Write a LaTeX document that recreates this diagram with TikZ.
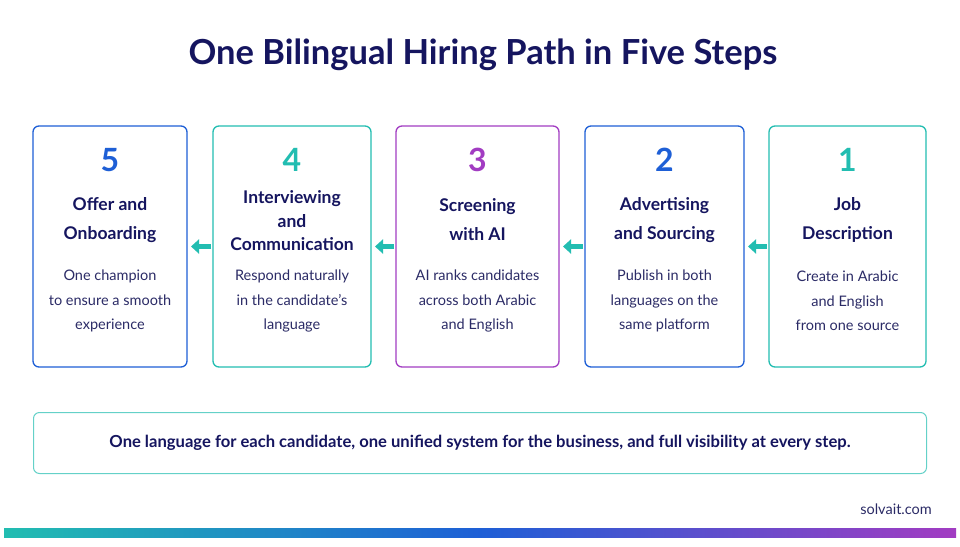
\documentclass[tikz,border=0pt]{standalone}
\usepackage{fontspec}
\setmainfont{Lato}
\usetikzlibrary{arrows.meta}
\definecolor{navy}{HTML}{15155F}
\definecolor{bblue}{HTML}{1E5FD6}
\definecolor{bteal}{HTML}{22BDB1}
\definecolor{bpurple}{HTML}{A23CC2}
\definecolor{desc}{HTML}{2B2B66}
\begin{document}
\begin{tikzpicture}[x=1pt,y=-1pt,
 card/.style={draw=#1, line width=1.3pt, rounded corners=6pt, fill=white, minimum height=241pt, anchor=north west, inner sep=0pt, outer sep=0pt},
 num/.style={text=#1, font=\fontsize{32}{32}\selectfont\bfseries},
 ttl/.style={text=navy, font=\fontsize{17.5}{29}\selectfont\bfseries, align=center},
 ttlthree/.style={text=navy, font=\fontsize{17.5}{23.5}\selectfont\bfseries, align=center},
 dsc/.style={text=desc, font=\fontsize{14.5}{24.5}\selectfont, align=center},
 arr/.style={draw=bteal, line width=4.5pt, -{Triangle[length=8pt,width=14pt]}, shorten >=4pt, shorten <=2pt}
]
\useasboundingbox[fill=white] (0,0) rectangle (960,546);
\node[text=navy, font=\fontsize{34.5}{34.5}\selectfont\bfseries] (title) at (483,55) {One Bilingual Hiring Path in Five Steps};

\node[card=bblue, minimum width=154pt] (c5) at (33,126) {};
\node[card=bteal, minimum width=158pt] (c4) at (213,126) {};
\node[card=bpurple, minimum width=163pt] (c3) at (396,126) {};
\node[card=bblue, minimum width=159pt] (c2) at (585,126) {};
\node[card=bteal, minimum width=157pt] (c1) at (769,126) {};

\foreach \c/\n/\col in {c5/5/bblue, c4/4/bteal, c3/3/bpurple, c2/2/bblue, c1/1/bteal}{
  \node[num=\col] (n\c) at (\c.center |- 0,160) {\n};
}
\node[ttl] (t5) at (c5.center |- 0,220) {Offer and\\Onboarding};
\node[ttlthree] (t4) at (c4.center |- 0,221) {Interviewing\\and\\Communication};
\node[ttl] (t3) at (c3.center |- 0,220) {Screening\\with AI};
\node[ttl] (t2) at (c2.center |- 0,220) {Advertising\\and Sourcing};
\node[ttl] (t1) at (c1.center |- 0,220) {Job\\Description};

\node[dsc] (d5) at (c5.center |- 0,301) {One champion\\to ensure a smooth\\experience};
\node[dsc] (d4) at (c4.center |- 0,301) {Respond naturally\\in the candidate’s\\language};
\node[dsc] (d3) at (c3.center |- 0,301) {AI ranks candidates\\across both Arabic\\and English};
\node[dsc] (d2) at (c2.center |- 0,301) {Publish in both\\languages on the\\same platform};
\node[dsc] (d1) at (c1.center |- 0,301) {Create in Arabic\\and English\\from one source};

\draw[arr] (c1.west) -- (c2.east);
\draw[arr] (c2.west) -- (c3.east);
\draw[arr] (c3.west) -- (c4.east);
\draw[arr] (c4.west) -- (c5.east);

\node[draw=bteal!70, line width=1pt, rounded corners=6pt, minimum width=893pt, minimum height=61pt, anchor=north west, inner sep=0pt] (sum) at (33,412) {};
\node[text=navy, font=\fontsize{16.6}{16.6}\selectfont\bfseries] (sumtext) at (sum.center) {One language for each candidate, one unified system for the business, and full visibility at every step.};

\node[text=desc, font=\fontsize{14.5}{14.5}\selectfont, anchor=east, inner sep=0pt] (brand) at (932,509) {solvait.com};
\shade[left color=bteal, right color=bpurple, middle color=bblue] (4,528) rectangle (956,537);
\end{tikzpicture}
\end{document}
